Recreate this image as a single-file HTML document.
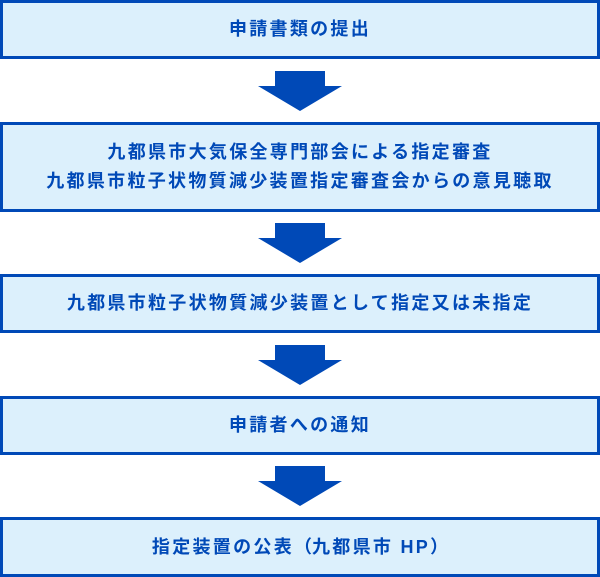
<!DOCTYPE html>
<html><head><meta charset="utf-8"><style>
html,body{margin:0;padding:0;background:#fff;}
body{width:600px;height:577px;position:relative;overflow:hidden;font-family:"Liberation Sans","Noto Sans CJK JP",sans-serif;}
.b{position:absolute;left:0;width:594px;border:3px solid #0049b7;background:#dcf0fc;color:#0049b7;font-weight:bold;font-size:18px;letter-spacing:2.3px;display:flex;align-items:center;justify-content:center;text-align:center;line-height:29px;}
svg{position:absolute;left:0;}
</style></head><body>
<div class="b" style="top:0;height:53px;">申請書類の提出</div>
<svg style="top:71px" width="600" height="41"><polygon points="275,0 325,0 325,15 342,15 300,40 258,15 275,15" fill="#0049b7"/></svg>
<div class="b" style="top:122px;height:84px;">九都県市大気保全専門部会による指定審査<br>九都県市粒子状物質減少装置指定審査会からの意見聴取</div>
<svg style="top:223px" width="600" height="41"><polygon points="275,0 325,0 325,15 342,15 300,40 258,15 275,15" fill="#0049b7"/></svg>
<div class="b" style="top:274px;height:53px;">九都県市粒子状物質減少装置として指定又は未指定</div>
<svg style="top:345px" width="600" height="41"><polygon points="275,0 325,0 325,15 342,15 300,40 258,15 275,15" fill="#0049b7"/></svg>
<div class="b" style="top:396px;height:53px;">申請者への通知</div>
<svg style="top:466px" width="600" height="41"><polygon points="275,0 325,0 325,15 342,15 300,40 258,15 275,15" fill="#0049b7"/></svg>
<div class="b" style="top:517px;height:54px;">指定装置の公表<span style="letter-spacing:0">（</span>九都県市 HP<span style="letter-spacing:0">）</span></div>
</body></html>
